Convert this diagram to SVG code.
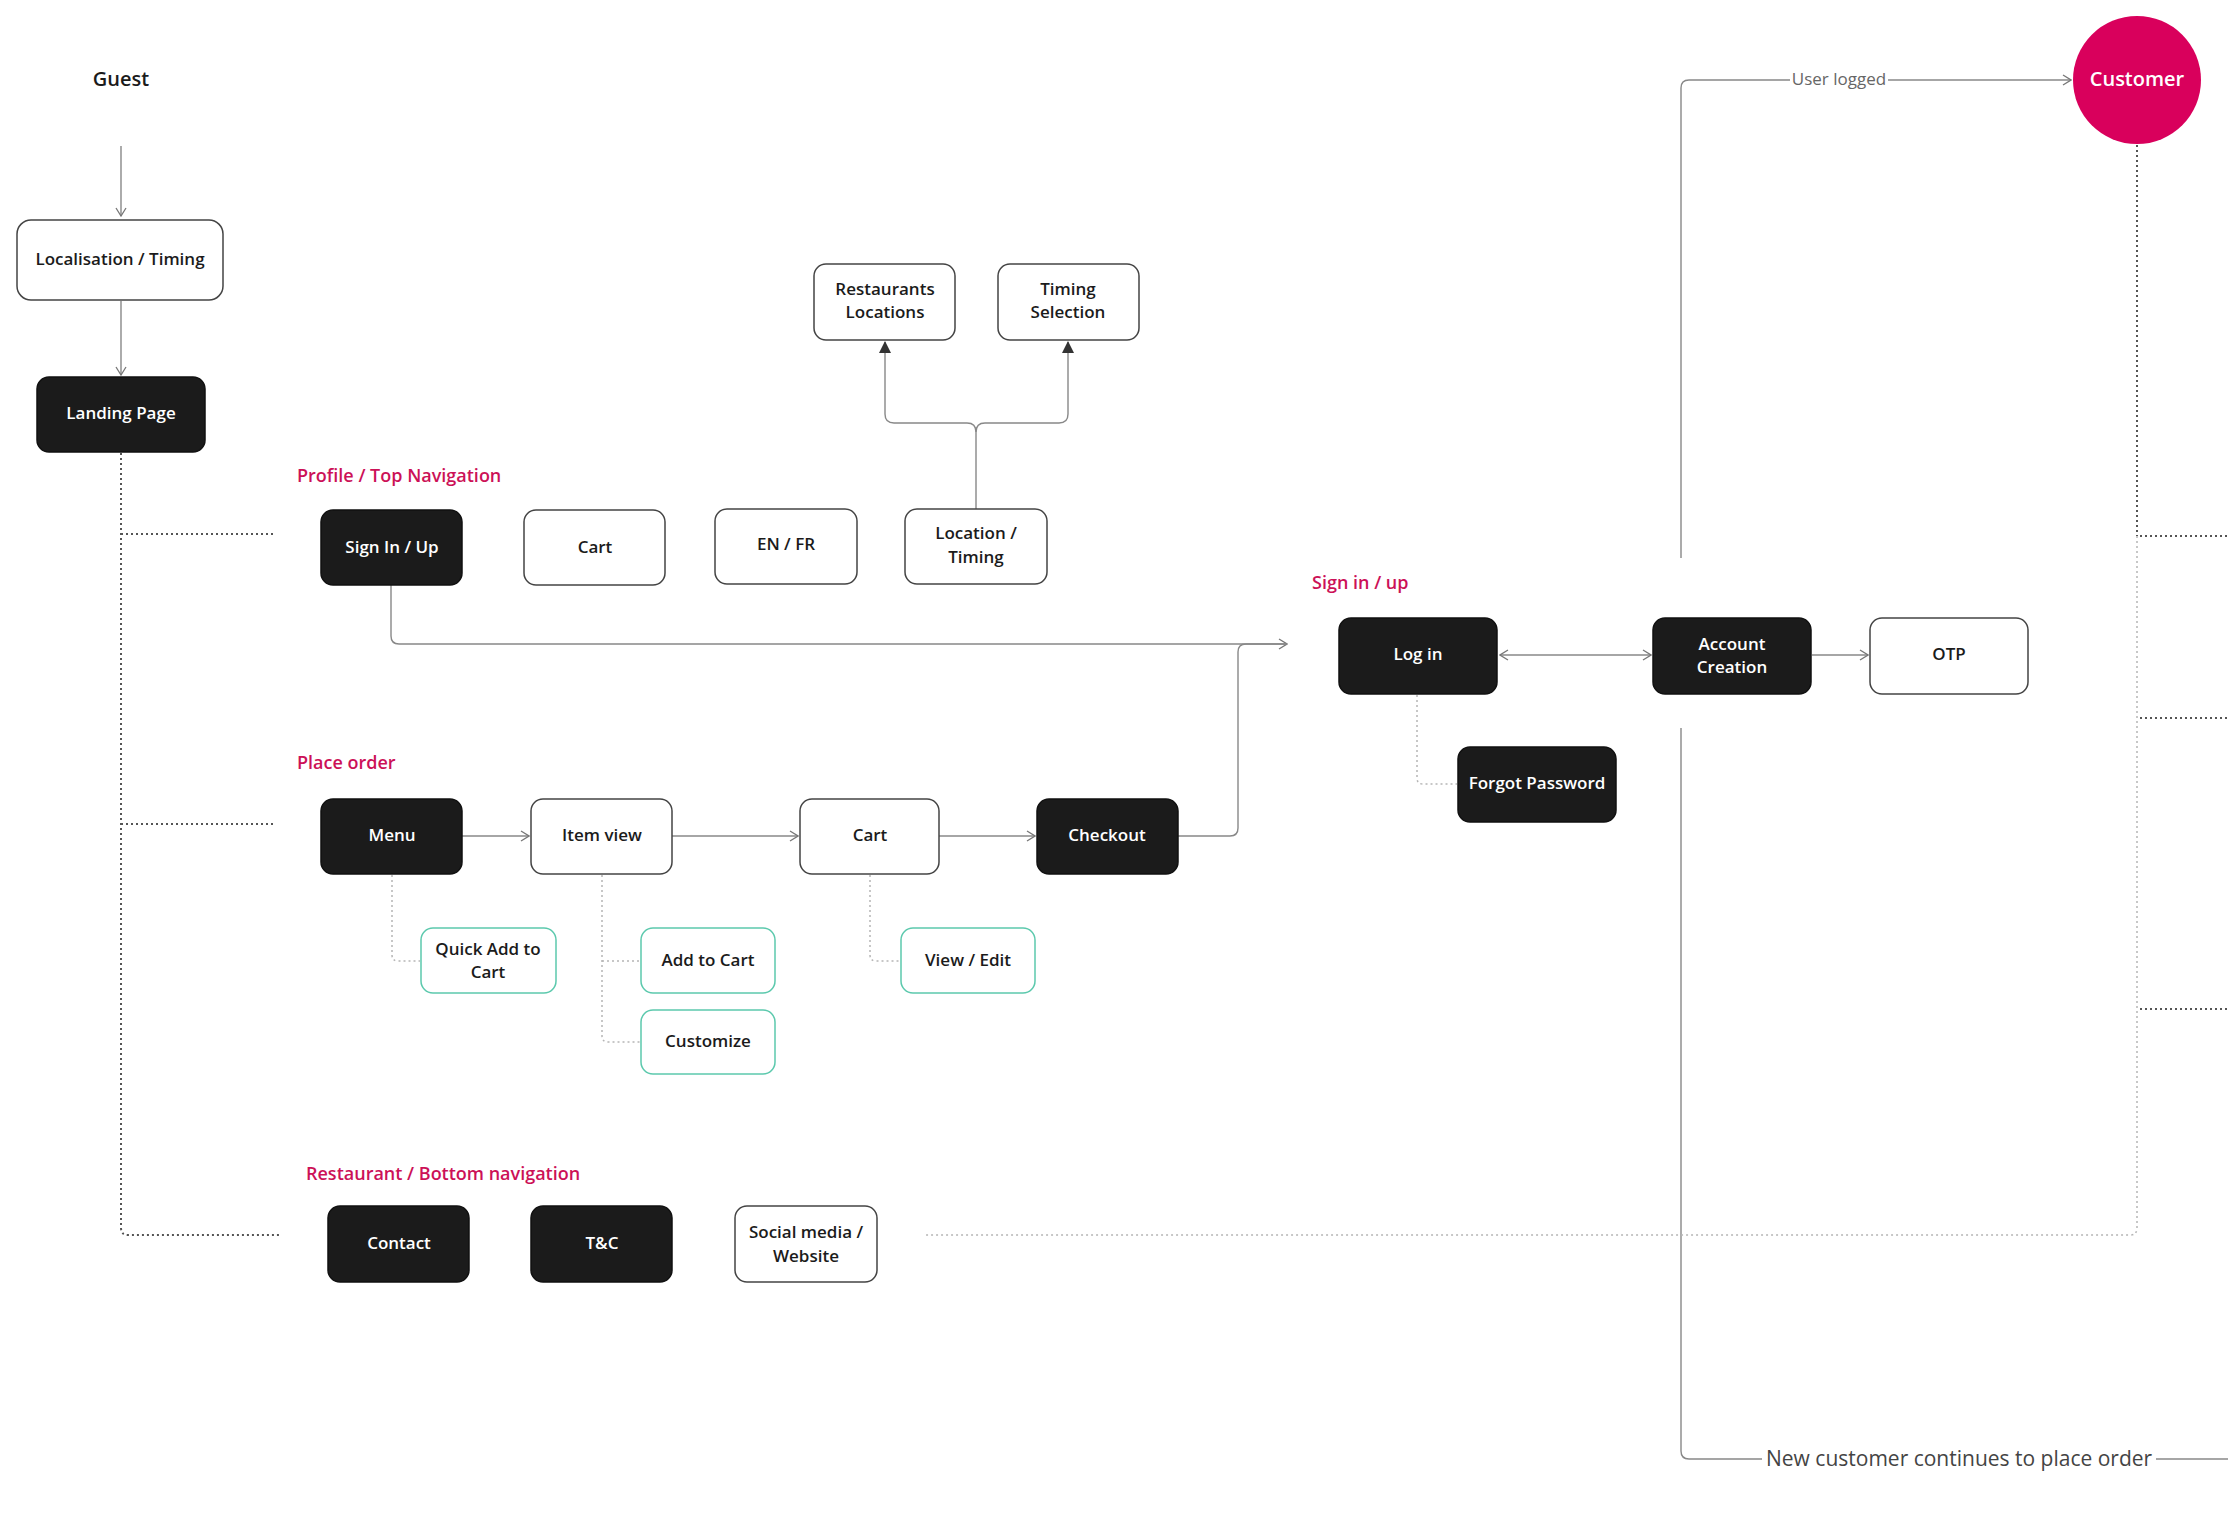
<svg xmlns="http://www.w3.org/2000/svg" width="2228" height="1525" viewBox="0 0 2228 1525">
<style>
  text { font-family: "Open Sans", "Noto Sans", "Liberation Sans", sans-serif; }
  .n { font-size: 17px; font-weight: 600; text-anchor: middle; dominant-baseline: central; }
  .dark rect { fill: #1b1b1b; stroke: #111; stroke-width: 1.5; }
  .dark text { fill: #ffffff; }
  .light rect { fill: #ffffff; stroke: #444; stroke-width: 1.5; }
  .light text { fill: #1b1b1b; }
  .teal rect { fill: #ffffff; stroke: #5cc9ad; stroke-width: 1.5; }
  .teal text { fill: #1b1b1b; }
  .sec { font-size: 18px; font-weight: 600; fill: #cc1157; }
  .ln { fill: none; stroke: #888; stroke-width: 1.4; }
  .dk { fill: none; stroke: #555; stroke-width: 2; stroke-dasharray: 2 3; }
  .lt { fill: none; stroke: #b5b5b5; stroke-width: 1.5; stroke-dasharray: 2 3; }
  .lbl { font-size: 17px; fill: #666; }
</style>
<defs>
  <marker id="open" viewBox="0 0 10 12" refX="9" refY="6" markerWidth="10" markerHeight="12" markerUnits="userSpaceOnUse" orient="auto-start-reverse">
    <path d="M1,1 L9,6 L1,11" fill="none" stroke="#777" stroke-width="1.3"/>
  </marker>
  <marker id="tri" viewBox="0 0 12 12" refX="11" refY="6" markerWidth="12" markerHeight="12" markerUnits="userSpaceOnUse" orient="auto">
    <path d="M0,0 L12,6 L0,12 Z" fill="#333"/>
  </marker>
</defs>
<rect width="2228" height="1525" fill="#ffffff"/>

<g id="connectors">
  <path class="ln" d="M121,146 V216" marker-end="url(#open)"/>
  <path class="ln" d="M121,301 V375" marker-end="url(#open)"/>
  <path class="dk" d="M121,453 V1228 Q121,1235 128,1235 H281"/>
  <path class="dk" d="M121,534 H273"/>
  <path class="dk" d="M121,824 H276"/>
  <path class="ln" d="M976,509 V432 Q976,423 967,423 H894 Q885,423 885,414 V342" stroke="#666" marker-end="url(#tri)"/>
  <path class="ln" d="M976,432 Q976,423 985,423 H1059 Q1068,423 1068,414 V342" stroke="#666" marker-end="url(#tri)"/>
  <path class="ln" d="M391,585 V636 Q391,644 399,644 H1287" marker-end="url(#open)"/>
  <path class="ln" d="M1178,836 H1230 Q1238,836 1238,828 V652 Q1238,644 1246,644 H1287"/>
  <path class="ln" d="M1500,655 H1651" marker-start="url(#open)" marker-end="url(#open)"/>
  <path class="ln" d="M1812,655 H1868" marker-end="url(#open)"/>
  <path class="lt" d="M1417,695 V778 Q1417,784 1423,784 H1457"/>
  <path class="ln" d="M1681,558 V88 Q1681,80 1689,80 H1790"/>
  <path class="ln" d="M1888,80 H2071" marker-end="url(#open)"/>
  <path class="ln" d="M1681,728 V1451 Q1681,1459 1689,1459 H1762"/>
  <path class="ln" d="M2156,1459 H2228"/>
  <path class="dk" d="M2137,145 V536" stroke="#777"/>
  <path class="lt" d="M2137,536 V1228 Q2137,1235 2130,1235 H925"/>
  <path class="dk" d="M2140,536 H2228"/>
  <path class="dk" d="M2140,718 H2228"/>
  <path class="dk" d="M2140,1009 H2228"/>
  <path class="ln" d="M462,836 H529" marker-end="url(#open)"/>
  <path class="ln" d="M672,836 H798" marker-end="url(#open)"/>
  <path class="ln" d="M939,836 H1035" marker-end="url(#open)"/>
  <path class="lt" d="M392,875 V955 Q392,961 398,961 H420"/>
  <path class="lt" d="M602,875 V1036 Q602,1042 608,1042 H640"/>
  <path class="lt" d="M602,961 H640"/>
  <path class="lt" d="M870,875 V955 Q870,961 876,961 H900"/>
  <text class="lbl" x="1839" y="78" text-anchor="middle" dominant-baseline="central">User logged</text>
  <text x="1766" y="1458" font-size="21" fill="#444" dominant-baseline="central">New customer continues to place order</text>
</g>

<g id="guest"><text x="121" y="78" font-size="20" font-weight="600" fill="#1b1b1b" text-anchor="middle" dominant-baseline="central">Guest</text></g>
<g id="localisation" class="light"><rect x="17" y="220" width="206" height="80" rx="14"/><text class="n" x="120" y="258">Localisation / Timing</text></g>
<g id="landing" class="dark"><rect x="37" y="377" width="168" height="75" rx="12"/><text class="n" x="121" y="412">Landing Page</text></g>

<g id="sec-profile"><text class="sec" x="297" y="475" dominant-baseline="central">Profile / Top Navigation</text></g>
<g id="signin" class="dark"><rect x="321" y="510" width="141" height="75" rx="12"/><text class="n" x="392" y="546">Sign In / Up</text></g>
<g id="cart-top" class="light"><rect x="524" y="510" width="141" height="75" rx="12"/><text class="n" x="595" y="546">Cart</text></g>
<g id="enfr" class="light"><rect x="715" y="509" width="142" height="75" rx="12"/><text class="n" x="786" y="543">EN / FR</text></g>
<g id="loctiming" class="light"><rect x="905" y="509" width="142" height="75" rx="12"/><text class="n" x="976" y="532">Location /</text><text class="n" x="976" y="556">Timing</text></g>
<g id="restlocs" class="light"><rect x="814" y="264" width="141" height="76" rx="12"/><text class="n" x="885" y="288">Restaurants</text><text class="n" x="885" y="311">Locations</text></g>
<g id="timingsel" class="light"><rect x="998" y="264" width="141" height="76" rx="12"/><text class="n" x="1068" y="288">Timing</text><text class="n" x="1068" y="311">Selection</text></g>

<g id="sec-sign"><text class="sec" x="1312" y="582" dominant-baseline="central">Sign in / up</text></g>
<g id="login" class="dark"><rect x="1339" y="618" width="158" height="76" rx="12"/><text class="n" x="1418" y="653">Log in</text></g>
<g id="account" class="dark"><rect x="1653" y="618" width="158" height="76" rx="12"/><text class="n" x="1732" y="643">Account</text><text class="n" x="1732" y="666">Creation</text></g>
<g id="otp" class="light"><rect x="1870" y="618" width="158" height="76" rx="12"/><text class="n" x="1949" y="653">OTP</text></g>
<g id="forgot" class="dark"><rect x="1458" y="747" width="158" height="75" rx="12"/><text class="n" x="1537" y="782">Forgot Password</text></g>

<g id="customer"><circle cx="2137" cy="80" r="64" fill="#d9005c"/><text x="2137" y="78" font-size="20" font-weight="600" fill="#ffffff" text-anchor="middle" dominant-baseline="central">Customer</text></g>

<g id="sec-order"><text class="sec" x="297" y="762" dominant-baseline="central">Place order</text></g>
<g id="menu" class="dark"><rect x="321" y="799" width="141" height="75" rx="12"/><text class="n" x="392" y="834">Menu</text></g>
<g id="itemview" class="light"><rect x="531" y="799" width="141" height="75" rx="12"/><text class="n" x="602" y="834">Item view</text></g>
<g id="cart" class="light"><rect x="800" y="799" width="139" height="75" rx="12"/><text class="n" x="870" y="834">Cart</text></g>
<g id="checkout" class="dark"><rect x="1037" y="799" width="141" height="75" rx="12"/><text class="n" x="1107" y="834">Checkout</text></g>
<g id="quickadd" class="teal"><rect x="421" y="928" width="135" height="65" rx="12"/><text class="n" x="488" y="948">Quick Add to</text><text class="n" x="488" y="971">Cart</text></g>
<g id="addtocart" class="teal"><rect x="641" y="928" width="134" height="65" rx="12"/><text class="n" x="708" y="959">Add to Cart</text></g>
<g id="customize" class="teal"><rect x="641" y="1010" width="134" height="64" rx="12"/><text class="n" x="708" y="1040">Customize</text></g>
<g id="viewedit" class="teal"><rect x="901" y="928" width="134" height="65" rx="12"/><text class="n" x="968" y="959">View / Edit</text></g>

<g id="sec-rest"><text class="sec" x="306" y="1173" dominant-baseline="central">Restaurant / Bottom navigation</text></g>
<g id="contact" class="dark"><rect x="328" y="1206" width="141" height="76" rx="12"/><text class="n" x="399" y="1242">Contact</text></g>
<g id="tc" class="dark"><rect x="531" y="1206" width="141" height="76" rx="12"/><text class="n" x="602" y="1242">T&amp;C</text></g>
<g id="social" class="light"><rect x="735" y="1206" width="142" height="76" rx="12"/><text class="n" x="806" y="1231">Social media /</text><text class="n" x="806" y="1255">Website</text></g>
</svg>
